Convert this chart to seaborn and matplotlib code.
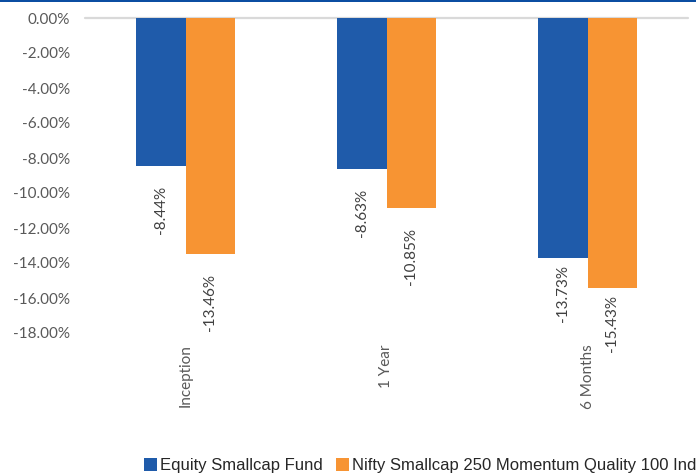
import matplotlib
matplotlib.use("Agg")
import matplotlib.pyplot as plt
import seaborn as sns
import pandas as pd
from matplotlib.patches import Patch, Rectangle

categories = ["Inception", "1 Year", "6 Months"]
series_names = ["Equity Smallcap Fund", "Nifty Smallcap 250 Momentum Quality 100 Index"]
fund_values = [-8.44, -8.63, -13.73]
index_values = [-13.46, -10.85, -15.43]
yticks = [0, -2, -4, -6, -8, -10, -12, -14, -16, -18]
colors = ["#1F5BAA", "#F79433"]
label_gap_px = [20, 20, 7]  # gap between bar end and data label per category

df = pd.DataFrame({
    "category": categories * 2,
    "series": [series_names[0]] * 3 + [series_names[1]] * 3,
    "value": fund_values + index_values,
})

sns.set_style("white")
plt.rcParams["font.family"] = ["Lato", "DejaVu Sans"]

fig = plt.figure(figsize=(6.96, 4.75), dpi=100)
W, H = 696, 475
ax = fig.add_axes([85 / W, 1 - 333 / H, (688 - 85) / W, (333 - 18) / H])

sns.barplot(data=df, x="category", y="value", hue="series", order=categories,
            hue_order=series_names, palette=colors, width=0.49, gap=0,
            saturation=1, ax=ax, legend=False, errorbar=None,
            linewidth=0, edgecolor="none")

ax.set_ylim(-18, 0)
ax.set_xlim(-0.5, 2.5)
ax.set_yticks(yticks)
ax.set_yticklabels([f"{v:.2f}%" for v in yticks])
ax.set_xlabel("")
ax.set_ylabel("")
for s in ax.spines.values():
    s.set_visible(False)
ax.tick_params(axis="both", length=0, labelsize=11, colors="#595959")
ax.tick_params(axis="y", pad=11)
ax.tick_params(axis="x", pad=8)
ax.set_xticks(range(len(categories)))
ax.set_xticklabels(categories, rotation=90, va="top", ha="center")
ax.axhline(0, color="#D9D9D9", lw=1.6, clip_on=False, zorder=0)

for cont in ax.containers:
    for i, bar in enumerate(cont):
        h = bar.get_height()
        xc = bar.get_x() + bar.get_width() / 2
        ax.annotate(f"{h:.2f}%", (xc, h), xytext=(0, -label_gap_px[i] * 0.72),
                    textcoords="offset points", rotation=90, ha="center", va="top",
                    fontsize=11, color="#404040", annotation_clip=False)

handles = [Patch(facecolor=c, edgecolor="none") for c in colors]
fig.legend(handles, series_names, loc="center left", ncol=2,
           bbox_to_anchor=(144 / W, 1 - 465.5 / H), frameon=False,
           handlelength=0.78, handleheight=0.78, handletextpad=0.15,
           columnspacing=0.85, borderpad=0, borderaxespad=0,
           prop={"family": ["Liberation Sans", "DejaVu Sans"], "size": 12},
           labelcolor="#262626")

fig.add_artist(Rectangle((0, 1 - 2 / H), 1, 2 / H, transform=fig.transFigure,
                         facecolor="#0B4EA2", edgecolor="none"))

fig.savefig("out.png", dpi=100)
